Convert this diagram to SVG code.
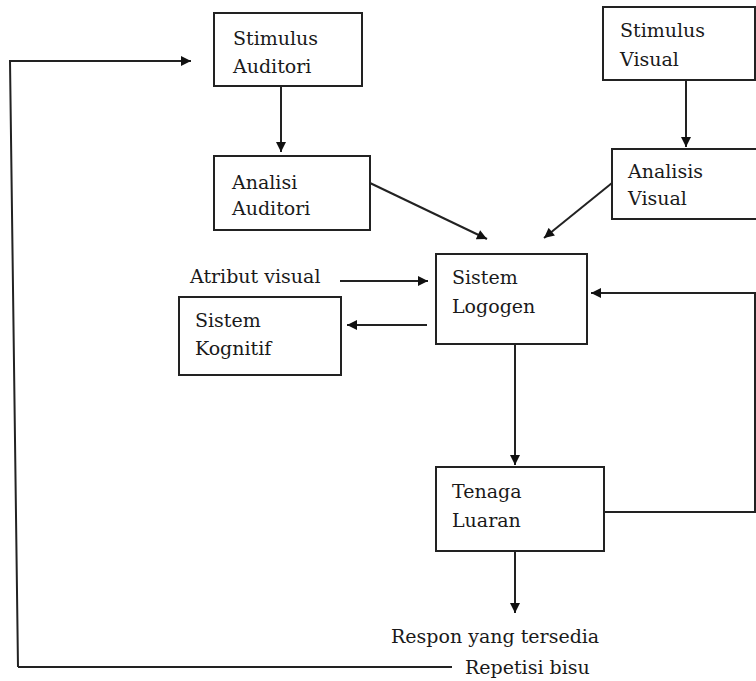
<svg xmlns="http://www.w3.org/2000/svg" width="756" height="681" viewBox="0 0 756 681">
<style>
.box{fill:#fff;stroke:#222;stroke-width:2}
.t{font-family:"DejaVu Serif","Liberation Serif",serif;font-size:19px;fill:#1a1a1a}
.c{fill:none;stroke:#222;stroke-width:2}
</style>
<defs>
<marker id="ah" viewBox="0 0 10 10" refX="10" refY="5" markerWidth="11" markerHeight="10" markerUnits="userSpaceOnUse" orient="auto">
<path d="M0,0 L10,5 L0,10 Z" fill="#111"/>
</marker>
</defs>
<rect width="756" height="681" fill="#fff"/>
<g id="connectors">
<path class="c" d="M18,667 L10,61 L191,61" marker-end="url(#ah)"/>
<path class="c" d="M18,667 L452,667"/>
<path class="c" d="M281,86 L281,152" marker-end="url(#ah)"/>
<path class="c" d="M686,80 L686,147" marker-end="url(#ah)"/>
<path class="c" d="M370,183 L487,239" marker-end="url(#ah)"/>
<path class="c" d="M612,183 L544,238" marker-end="url(#ah)"/>
<path class="c" d="M340,281 L428,281" marker-end="url(#ah)"/>
<path class="c" d="M427,325 L347,325" marker-end="url(#ah)"/>
<path class="c" d="M515,344 L515,465" marker-end="url(#ah)"/>
<path class="c" d="M515,551 L515,613" marker-end="url(#ah)"/>
<path class="c" d="M604,512 L755,512 L755,293 L591,293" marker-end="url(#ah)"/>
</g>
<g id="stimulus-auditori">
<rect class="box" x="214" y="13" width="148" height="73"/>
<text class="t" x="233" y="45">Stimulus</text>
<text class="t" x="233" y="73">Auditori</text>
</g>
<g id="stimulus-visual">
<rect class="box" x="603" y="7" width="152" height="73"/>
<text class="t" x="620" y="37">Stimulus</text>
<text class="t" x="620" y="66">Visual</text>
</g>
<g id="analisi-auditori">
<rect class="box" x="214" y="156" width="156" height="74"/>
<text class="t" x="232" y="189">Analisi</text>
<text class="t" x="232" y="215">Auditori</text>
</g>
<g id="analisis-visual">
<rect class="box" x="612" y="149" width="150" height="70"/>
<text class="t" x="628" y="178">Analisis</text>
<text class="t" x="628" y="205">Visual</text>
</g>
<g id="atribut-visual">
<text class="t" x="190" y="283">Atribut visual</text>
</g>
<g id="sistem-logogen">
<rect class="box" x="436" y="254" width="151" height="90"/>
<text class="t" x="452" y="284">Sistem</text>
<text class="t" x="452" y="313">Logogen</text>
</g>
<g id="sistem-kognitif">
<rect class="box" x="179" y="297" width="162" height="78"/>
<text class="t" x="195" y="327">Sistem</text>
<text class="t" x="195" y="355">Kognitif</text>
</g>
<g id="tenaga-luaran">
<rect class="box" x="436" y="467" width="168" height="84"/>
<text class="t" x="452" y="498">Tenaga</text>
<text class="t" x="452" y="527">Luaran</text>
</g>
<g id="respon">
<text class="t" x="391" y="643">Respon yang tersedia</text>
</g>
<g id="repetisi">
<text class="t" x="465" y="674">Repetisi bisu</text>
</g>
</svg>
